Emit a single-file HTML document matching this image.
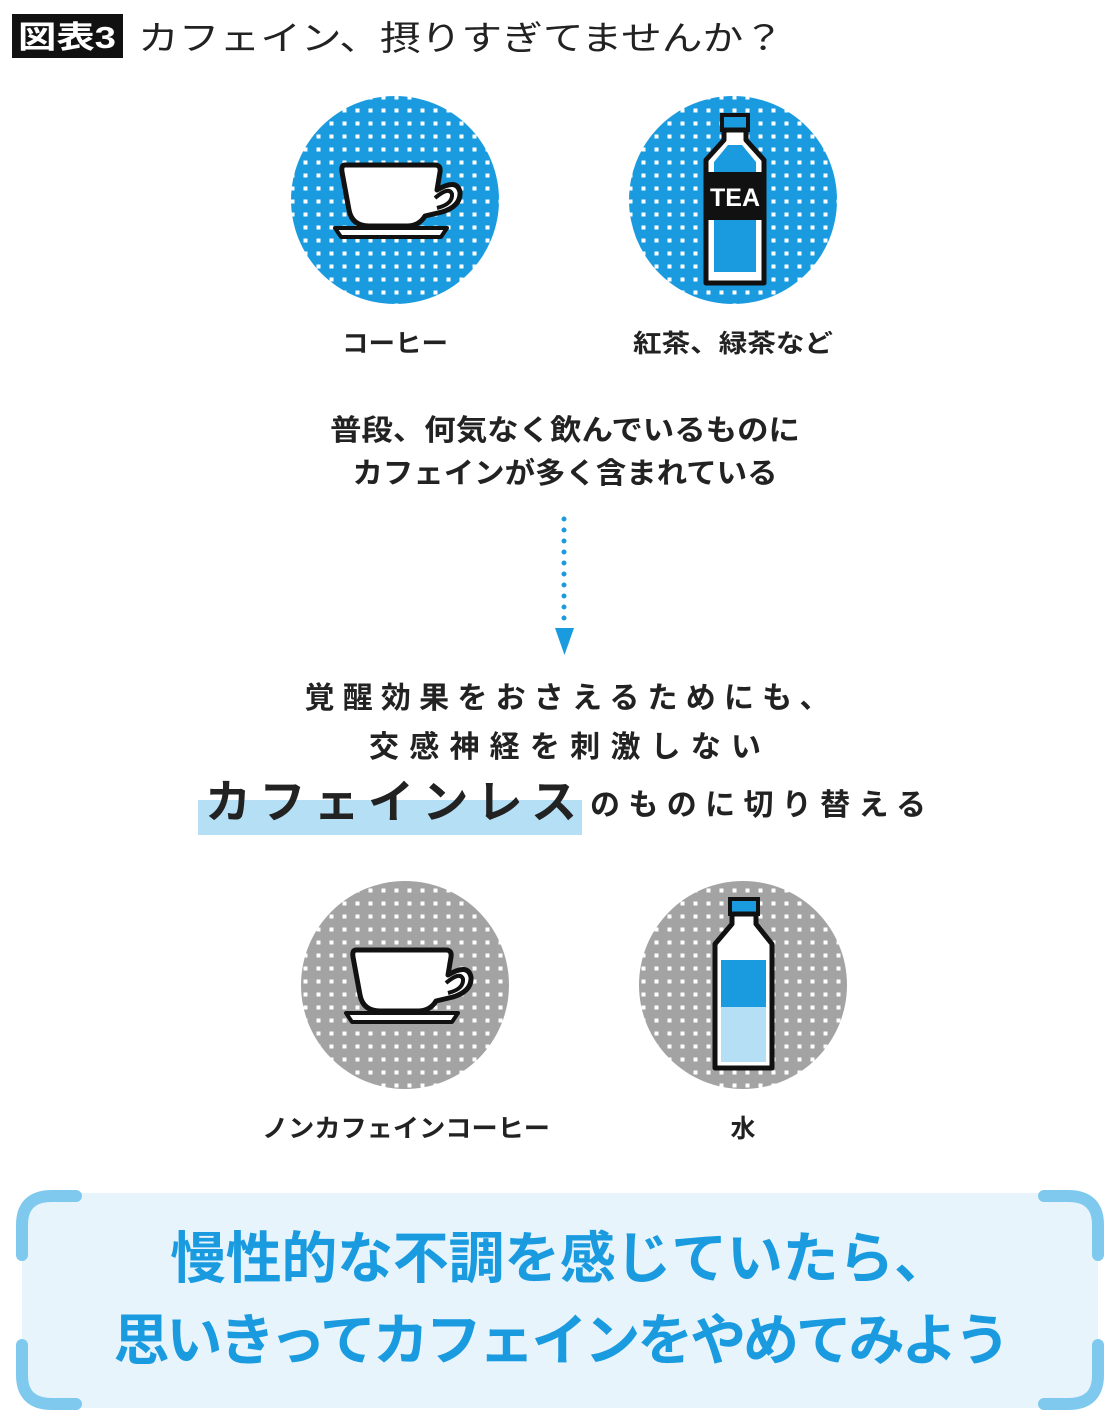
<!DOCTYPE html>
<html><head><meta charset="utf-8"><style>
html,body{margin:0;padding:0;background:#fff}
svg{display:block}
text{font-family:"Liberation Sans","Noto Sans CJK JP",sans-serif}
</style></head><body>
<svg width="1120" height="1425" viewBox="0 0 1120 1425" xmlns="http://www.w3.org/2000/svg">
<defs>
<pattern id="pb" width="13" height="13" patternUnits="userSpaceOnUse">
<rect width="13" height="13" fill="#1a9be0"/>
<rect x="4.5" y="4.5" width="4" height="4" fill="#fff"/>
</pattern>
<pattern id="pg" width="13" height="13" patternUnits="userSpaceOnUse">
<rect width="13" height="13" fill="#a3a3a3"/>
<rect x="4.5" y="4.5" width="4" height="4" fill="#fff"/>
</pattern>
<g id="cup">
<path d="M-52,-35 L38,-35 Q44,-35 43,-28 L40,-10 Q60,-22 63,-8 Q64,6 45,12 L28,16 Q22,26 10,26 L-28,26 Q-45,26 -48,10 L-55,-28 Q-56,-35 -52,-35 Z" fill="#fff" stroke="#111" stroke-width="5" stroke-linejoin="round"/>
<path d="M38,-2 Q52,-14 55,-6 Q56,4 40,8" fill="none" stroke="#111" stroke-width="4"/>
<path d="M-62,28 L50,28 L44,37 L-56,37 Z" fill="#fff" stroke="#111" stroke-width="4" stroke-linejoin="round"/>
</g>
</defs>

<rect x="12" y="14" width="111" height="44" fill="#111"/>
<text x="67" y="48" font-size="31" fill="#fff" text-anchor="middle" font-weight="bold" textLength="98" lengthAdjust="spacingAndGlyphs">図表3</text>
<text x="138" y="50" font-size="34" fill="#222" textLength="646" lengthAdjust="spacingAndGlyphs">カフェイン、摂りすぎてませんか？</text>

<circle cx="395" cy="200" r="104" fill="url(#pb)"/>
<use href="#cup" x="397" y="200"/>
<circle cx="733" cy="200" r="104" fill="url(#pb)"/>
<path d="M722,115 H748 V130 H722 Z" fill="#1a9be0" stroke="#111" stroke-width="4"/>
<path d="M724,130 V140 L706,160 V283 H764 V160 L746,140 V130 Z" fill="#fff" stroke="#111" stroke-width="5" stroke-linejoin="round"/>
<path d="M728,145 L714,162 V272 H756 V162 L742,145 Z" fill="#1a9be0"/>
<rect x="706" y="172" width="58" height="48" fill="#111"/>
<text x="735" y="206" font-size="25" font-weight="bold" fill="#fff" text-anchor="middle">TEA</text>

<text x="395" y="352" font-size="25" font-weight="bold" fill="#222" text-anchor="middle" textLength="106" lengthAdjust="spacingAndGlyphs">コーヒー</text>
<text x="733" y="352" font-size="25" font-weight="bold" fill="#222" text-anchor="middle" textLength="200" lengthAdjust="spacingAndGlyphs">紅茶、緑茶など</text>

<text x="565" y="440" font-size="29" font-weight="bold" fill="#222" text-anchor="middle" textLength="470" lengthAdjust="spacingAndGlyphs">普段、何気なく飲んでいるものに</text>
<text x="565" y="483" font-size="29" font-weight="bold" fill="#222" text-anchor="middle" textLength="425" lengthAdjust="spacingAndGlyphs">カフェインが多く含まれている</text>

<line x1="564" y1="519" x2="564" y2="624" stroke="#1a9be0" stroke-width="5" stroke-linecap="round" stroke-dasharray="0 11"/>
<path d="M555,628 L574,628 L564.5,655 Z" fill="#1a9be0"/>

<text x="567" y="708" font-size="30" font-weight="bold" fill="#222" text-anchor="middle" textLength="525" lengthAdjust="spacing">覚醒効果をおさえるためにも、</text>
<text x="565" y="757" font-size="30" font-weight="bold" fill="#222" text-anchor="middle" textLength="392" lengthAdjust="spacing">交感神経を刺激しない</text>
<rect x="198" y="800" width="384" height="35" fill="#b5dff5"/>
<text x="205" y="818" font-size="46" font-weight="bold" fill="#222" textLength="372" lengthAdjust="spacing">カフェインレス</text>
<text x="590" y="815" font-size="30" font-weight="bold" fill="#222" textLength="336" lengthAdjust="spacing">のものに切り替える</text>

<circle cx="405" cy="985" r="104" fill="url(#pg)"/>
<use href="#cup" x="408" y="985"/>
<circle cx="743" cy="985" r="104" fill="url(#pg)"/>
<path d="M730,899 H758 V914 H730 Z" fill="#1a9be0" stroke="#111" stroke-width="4"/>
<path d="M732,914 V924 L715,944 V1068 H772 V944 L756,924 V914 Z" fill="#fff" stroke="#111" stroke-width="5" stroke-linejoin="round"/>
<rect x="721" y="960" width="45" height="47" fill="#1a9be0"/>
<rect x="721" y="1007" width="45" height="55" fill="#b5dff5"/>

<text x="406" y="1137" font-size="25" font-weight="bold" fill="#222" text-anchor="middle" textLength="288" lengthAdjust="spacingAndGlyphs">ノンカフェインコーヒー</text>
<text x="743" y="1137" font-size="25" font-weight="bold" fill="#222" text-anchor="middle">水</text>

<rect x="22" y="1193" width="1076" height="215" rx="30" fill="#e7f4fc"/>
<g fill="none" stroke="#7fc9ef" stroke-width="12" stroke-linecap="round">
<path d="M22,1255 V1225 Q22,1196 52,1196 H76"/>
<path d="M22,1345 V1375 Q22,1404 52,1404 H76"/>
<path d="M1098,1255 V1225 Q1098,1196 1068,1196 H1044"/>
<path d="M1098,1345 V1375 Q1098,1404 1068,1404 H1044"/>
</g>
<text x="560" y="1278" font-size="56" font-weight="bold" fill="#1a9be0" text-anchor="middle" textLength="780" lengthAdjust="spacing">慢性的な不調を感じていたら、</text>
<text x="562" y="1360" font-size="56" font-weight="bold" fill="#1a9be0" text-anchor="middle" textLength="897" lengthAdjust="spacing">思いきってカフェインをやめてみよう</text>
</svg>
</body></html>
